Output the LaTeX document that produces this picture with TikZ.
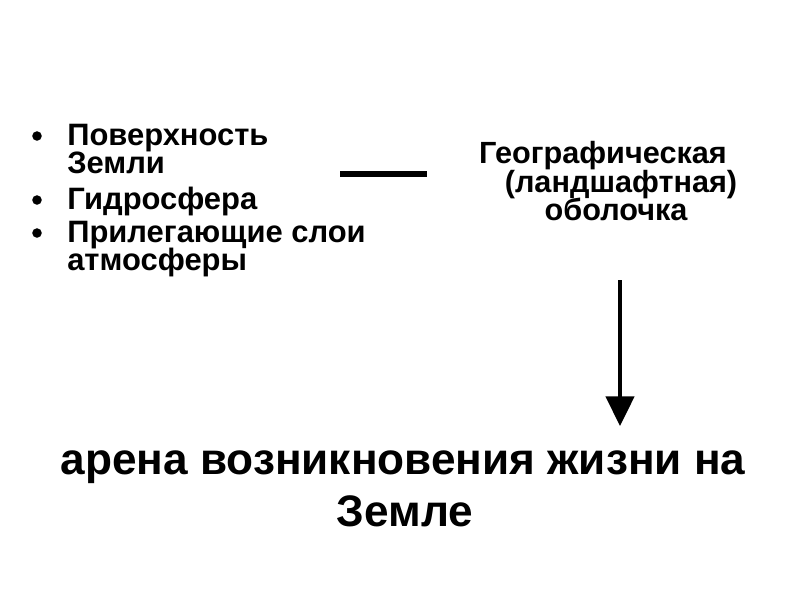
\documentclass[tikz,border=0pt]{standalone}
\usepackage{fontspec}
\setmainfont{Liberation Sans}
\usetikzlibrary{arrows.meta}
\begin{document}
\begin{tikzpicture}[x=0.025cm,y=-0.025cm,every node/.style={font=\bfseries,inner sep=0pt}]
    \tikzset{
      item/.style={anchor=base west,font=\fontsize{22}{20}\bfseries},
      dot/.style={circle,fill=black,inner sep=2.4pt},
      shell/.style={anchor=base,font=\fontsize{21.8}{20}\bfseries},
      arena/.style={anchor=base,font=\fontsize{31.4}{34}\bfseries},
      line/.style={line width=3.6pt},
      arrow/.style={-{Triangle[width=20pt,length=21pt]},line width=2.8pt}
    }
    \useasboundingbox (0,0) rectangle (800,600);
    % list on the left
    \node[dot] (d1) at (37,136) {};
    \node[item] (i1) at (67,145) {Поверхность};
    \node[item] (i1b) at (67,173) {Земли};
    \node[dot] (d2) at (37,200) {};
    \node[item] (i2) at (67,209) {Гидросфера};
    \node[dot] (d3) at (37,233) {};
    \node[item] (i3) at (67,242) {Прилегающие слои};
    \node[item] (i3b) at (67,270) {атмосферы};
    % shell on the right
    \node[shell] (s1) at (603,163) {Географическая};
    \node[shell] (s2) at (621,192) {(ландшафтная)};
    \node[shell] (s3) at (616,220) {оболочка};
    % arena below
    \node[arena] (a1) at (403,474) {арена возникновения жизни на};
    \node[arena] (a2) at (405,526) {Земле};
    \coordinate (l1) at (340,174);
    \coordinate (l2) at (427,174);
    \coordinate (top) at (620,280);
    \coordinate (tip) at (620,426);
    \draw[line] (l1)--(l2);
    \draw[arrow] (top)--(tip);
  \end{tikzpicture}
\end{document}
